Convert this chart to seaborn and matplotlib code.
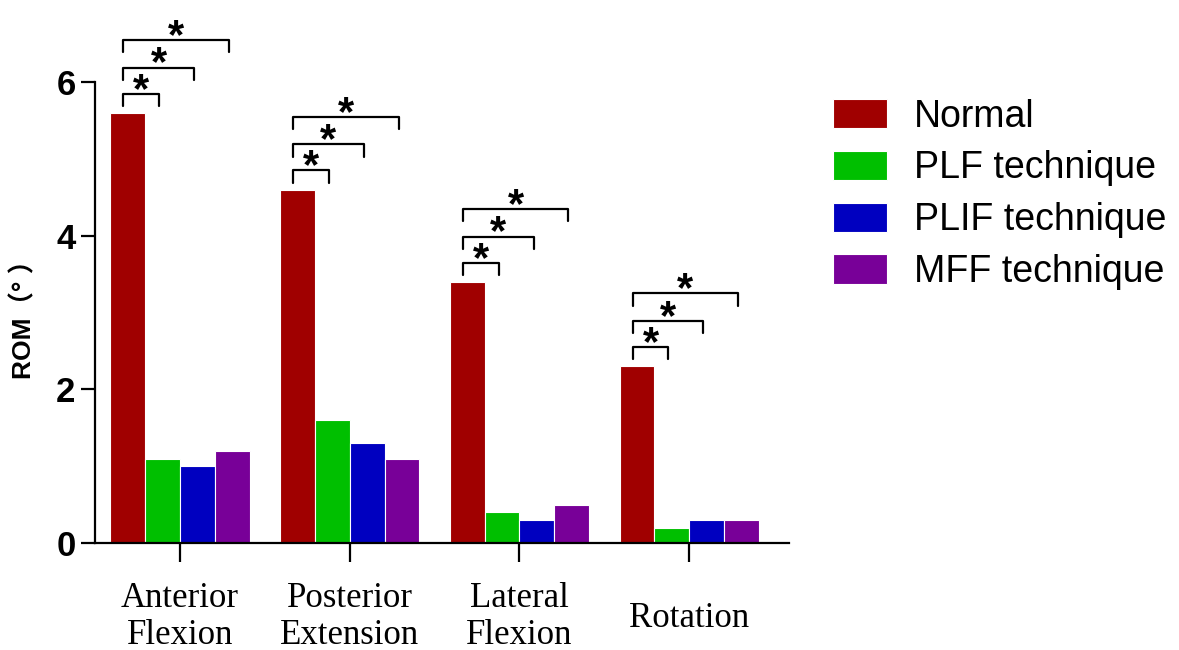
import matplotlib
matplotlib.use("Agg")
import matplotlib.pyplot as plt
import matplotlib.transforms as mtransforms
import seaborn as sns
import pandas as pd

# data
motions = ["Anterior\nFlexion", "Posterior\nExtension", "Lateral\nFlexion", "Rotation"]
groups = ["Normal", "PLF technique", "PLIF technique", "MFF technique"]
normal = [5.6, 4.6, 3.4, 2.3]
plf = [1.1, 1.6, 0.4, 0.2]
plif = [1.0, 1.3, 0.3, 0.3]
mff = [1.2, 1.1, 0.5, 0.3]
colors = ["#A00000", "#00BF00", "#0000C0", "#780098"]

rows = []
for g, vals in zip(groups, [normal, plf, plif, mff]):
    for m, v in zip(motions, vals):
        rows.append({"motion": m, "group": g, "rom": v})
df = pd.DataFrame(rows)

sns.set_style("white")
plt.rcParams["font.family"] = ["Liberation Sans", "Noto Sans CJK SC", "DejaVu Sans"]
for k in ["text.color", "axes.labelcolor", "xtick.color", "ytick.color"]:
    plt.rcParams[k] = "black"

fig = plt.figure(figsize=(11.79, 6.5), dpi=100)
ax = fig.add_axes([0.0806, 0.1646, 0.589, 0.709])

sns.barplot(data=df, x="motion", y="rom", hue="group", palette=colors,
            width=0.82, edgecolor="white", linewidth=0.8, saturation=1,
            ax=ax)

ax.set_xlim(-0.5, 3.59)
ax.set_ylim(0, 6)
ax.set_yticks([0, 2, 4, 6])
ax.set_xlabel("")
ax.set_ylabel("ROM（° ）", fontsize=19, fontweight="bold", labelpad=14)
sns.despine(ax=ax)
for s in ["left", "bottom"]:
    ax.spines[s].set_linewidth(1.6)
    ax.spines[s].set_color("black")
ax.tick_params(axis="y", length=10, width=1.6, labelsize=25, pad=4, left=True)
ax.tick_params(axis="x", length=14, width=1.6, labelsize=25, pad=14, bottom=True)
for lbl in ax.get_yticklabels():
    lbl.set_fontweight("bold")
xlbls = ax.get_xticklabels()
for lbl in xlbls:
    lbl.set_family("Liberation Serif")
    lbl.set_linespacing(1.15)
# single-line label sits between the two lines of the others
shift = mtransforms.ScaledTranslation(0, -0.2, fig.dpi_scale_trans)
xlbls[3].set_transform(xlbls[3].get_transform() + shift)

# significance brackets: Normal vs each technique
offsets = [0.25, 0.59, 0.95]
for i in range(len(motions)):
    base = ax.containers[0][i]
    x0 = base.get_x() + base.get_width() / 2 - 0.025
    top = base.get_height()
    for k, off in enumerate(offsets):
        other = ax.containers[k + 1][i]
        x1 = other.get_x() + other.get_width() / 2 - 0.02
        yb = top + off
        ax.plot([x0, x0, x1, x1], [yb - 0.16, yb, yb, yb - 0.16],
                color="black", lw=1.6, clip_on=False)
        ax.text((x0 + x1) / 2, yb + 0.04, "*", ha="center", va="center",
                fontsize=30, fontweight="bold", clip_on=False)

leg = ax.legend(loc="upper left", bbox_to_anchor=(0.678, 0.9),
                bbox_transform=fig.transFigure, frameon=False,
                fontsize=27, handlelength=1.45, handleheight=0.82,
                labelspacing=0.42, handletextpad=0.7)

fig.savefig("out.png", dpi=100)
